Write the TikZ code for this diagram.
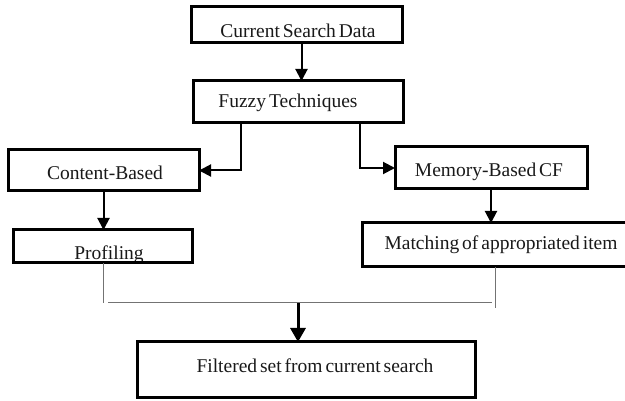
\documentclass[tikz,border=0pt]{standalone}
\usepackage{fontspec}
\setmainfont[WordSpace=0.6]{Liberation Serif}
\usetikzlibrary{arrows.meta}
\begin{document}
\begin{tikzpicture}[x=1pt,y=-1pt,
  box/.style={draw=black,line width=3pt,rectangle,inner sep=0pt,outer sep=0pt,fill=none},
  lbl/.style={inner sep=0pt,font=\fontsize{19.5}{22}\selectfont,text=black!90},
  arr/.style={draw=black,line width=2pt,-{Triangle[length=12pt,width=12pt]}},
  bigarr/.style={draw=black,line width=3pt,-{Triangle[length=14pt,width=15pt]}},
  thin/.style={draw=black!55,line width=1pt}]
\useasboundingbox (0,0) rectangle (625,401);
\begin{scope}
\clip (0,0) rectangle (625,401);
% labels
\node[lbl] (tcsd) at (298,31) {Current Search Data};
\node[lbl] (tfuz) at (288,103) {Fuzzy Techniques};
\node[lbl] (tcb) at (105,173) {Content-Based};
\node[lbl] (tprof) at (109,255) {Profiling};
\node[lbl] (tmem) at (489,172) {Memory-Based CF};
\node[lbl] (tmat) at (501,245) {Matching of appropriated item};
\node[lbl] (tfil) at (315,366) {Filtered set from current search};
% boxes
\node[box,minimum width=211pt,minimum height=36pt] (csd) at (296.5,25) {};
\node[box,minimum width=210pt,minimum height=42pt] (fuz) at (298,102) {};
\node[box,minimum width=191pt,minimum height=41pt] (cb) at (103.5,170.5) {};
\node[box,minimum width=179pt,minimum height=33pt] (prof) at (102.5,246.5) {};
\node[box,minimum width=192pt,minimum height=42pt] (mem) at (491,168) {};
\node[box,minimum width=270pt,minimum height=44pt] (mat) at (497,245) {};
\node[box,minimum width=338pt,minimum height=56pt] (fil) at (306,370) {};
% connectors
\draw[arr] ([xshift=5pt]csd.south) -- ([xshift=5pt]csd.south |- fuz.north);
\draw[arr] ([xshift=-57pt]fuz.south) |- (cb.east);
\draw[arr] ([xshift=62pt]fuz.south) |- (mem.west);
\draw[arr] (cb.south) -- (cb.south |- prof.north);
\draw[arr] (mem.south) -- (mem.south |- mat.north);
\coordinate (lbot) at (103,303);
\coordinate (rbot) at (495,308);
\coordinate (hl) at (108,303);
\coordinate (hr) at (492,303);
\coordinate (junc) at (298,303);
\draw[thin] (prof.south -| lbot) -- (lbot);
\draw[thin] (mat.south -| rbot) -- (rbot);
\draw[thin] (hl) -- (hr);
\draw[bigarr] (junc) -- (junc |- fil.north);
\end{scope}
\end{tikzpicture}
\end{document}
